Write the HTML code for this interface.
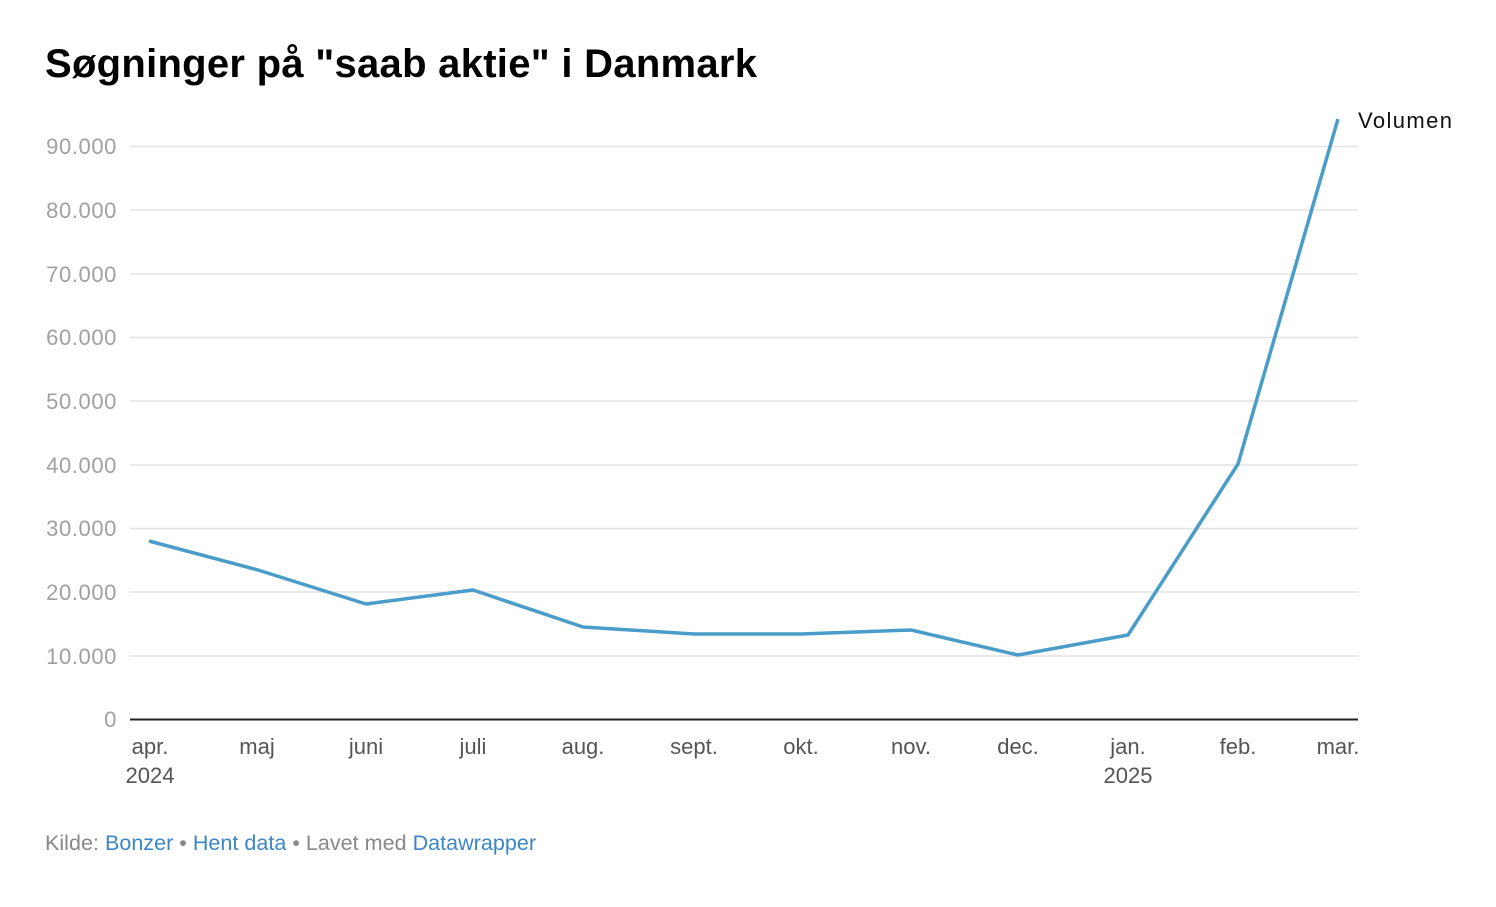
<!DOCTYPE html>
<html><head><meta charset="utf-8"><style>
body{margin:0;background:#fff;width:1496px;height:902px;overflow:hidden;font-family:"Liberation Sans",Arial,sans-serif}
</style></head><body>
<svg width="1496" height="902" xmlns="http://www.w3.org/2000/svg" font-family="Liberation Sans, Arial, sans-serif">
<text x="45" y="77" font-size="40" font-weight="bold" fill="#000" textLength="712" lengthAdjust="spacing">Søgninger på "saab aktie" i Danmark</text>
<g stroke="#e3e3e3" stroke-width="1.5">
<line x1="130" x2="1358" y1="146.5" y2="146.5"/>
<line x1="130" x2="1358" y1="210" y2="210"/>
<line x1="130" x2="1358" y1="274" y2="274"/>
<line x1="130" x2="1358" y1="337.5" y2="337.5"/>
<line x1="130" x2="1358" y1="401" y2="401"/>
<line x1="130" x2="1358" y1="465" y2="465"/>
<line x1="130" x2="1358" y1="528.5" y2="528.5"/>
<line x1="130" x2="1358" y1="592" y2="592"/>
<line x1="130" x2="1358" y1="656" y2="656"/>
</g>
<line x1="130" x2="1358" y1="719.5" y2="719.5" stroke="#222" stroke-width="2"/>
<g font-size="22" fill="#a0a0a0" text-anchor="end" letter-spacing="0.6">
<text x="117" y="154">90.000</text>
<text x="117" y="218">80.000</text>
<text x="117" y="282">70.000</text>
<text x="117" y="345">60.000</text>
<text x="117" y="409">50.000</text>
<text x="117" y="473">40.000</text>
<text x="117" y="536">30.000</text>
<text x="117" y="600">20.000</text>
<text x="117" y="664">10.000</text>
<text x="117" y="727">0</text>
</g>
<g font-size="22" fill="#555" text-anchor="middle">
<text x="150" y="754">apr.</text><text x="150" y="783">2024</text>
<text x="257" y="754">maj</text>
<text x="366" y="754">juni</text>
<text x="473" y="754">juli</text>
<text x="583" y="754">aug.</text>
<text x="694" y="754">sept.</text>
<text x="801" y="754">okt.</text>
<text x="911" y="754">nov.</text>
<text x="1018" y="754">dec.</text>
<text x="1128" y="754">jan.</text><text x="1128" y="783">2025</text>
<text x="1238" y="754">feb.</text>
<text x="1338" y="754">mar.</text>
</g>
<polyline fill="none" stroke="#4a9cc9" stroke-width="3.5" stroke-linejoin="round" points="149,541 258,570 366,604 473,590 583,627 694,634 801,634 911,630 1018,655 1128,635 1238,464 1338,119"/>
<text x="1358" y="128" font-size="22" fill="#111" textLength="94" lengthAdjust="spacing">Volumen</text>
<text x="45" y="850" font-size="21.5" fill="#888" textLength="491" lengthAdjust="spacing">Kilde: <tspan fill="#3b86c6">Bonzer</tspan> • <tspan fill="#3b86c6">Hent data</tspan> • Lavet med <tspan fill="#3b86c6">Datawrapper</tspan></text>
</svg>
</body></html>
